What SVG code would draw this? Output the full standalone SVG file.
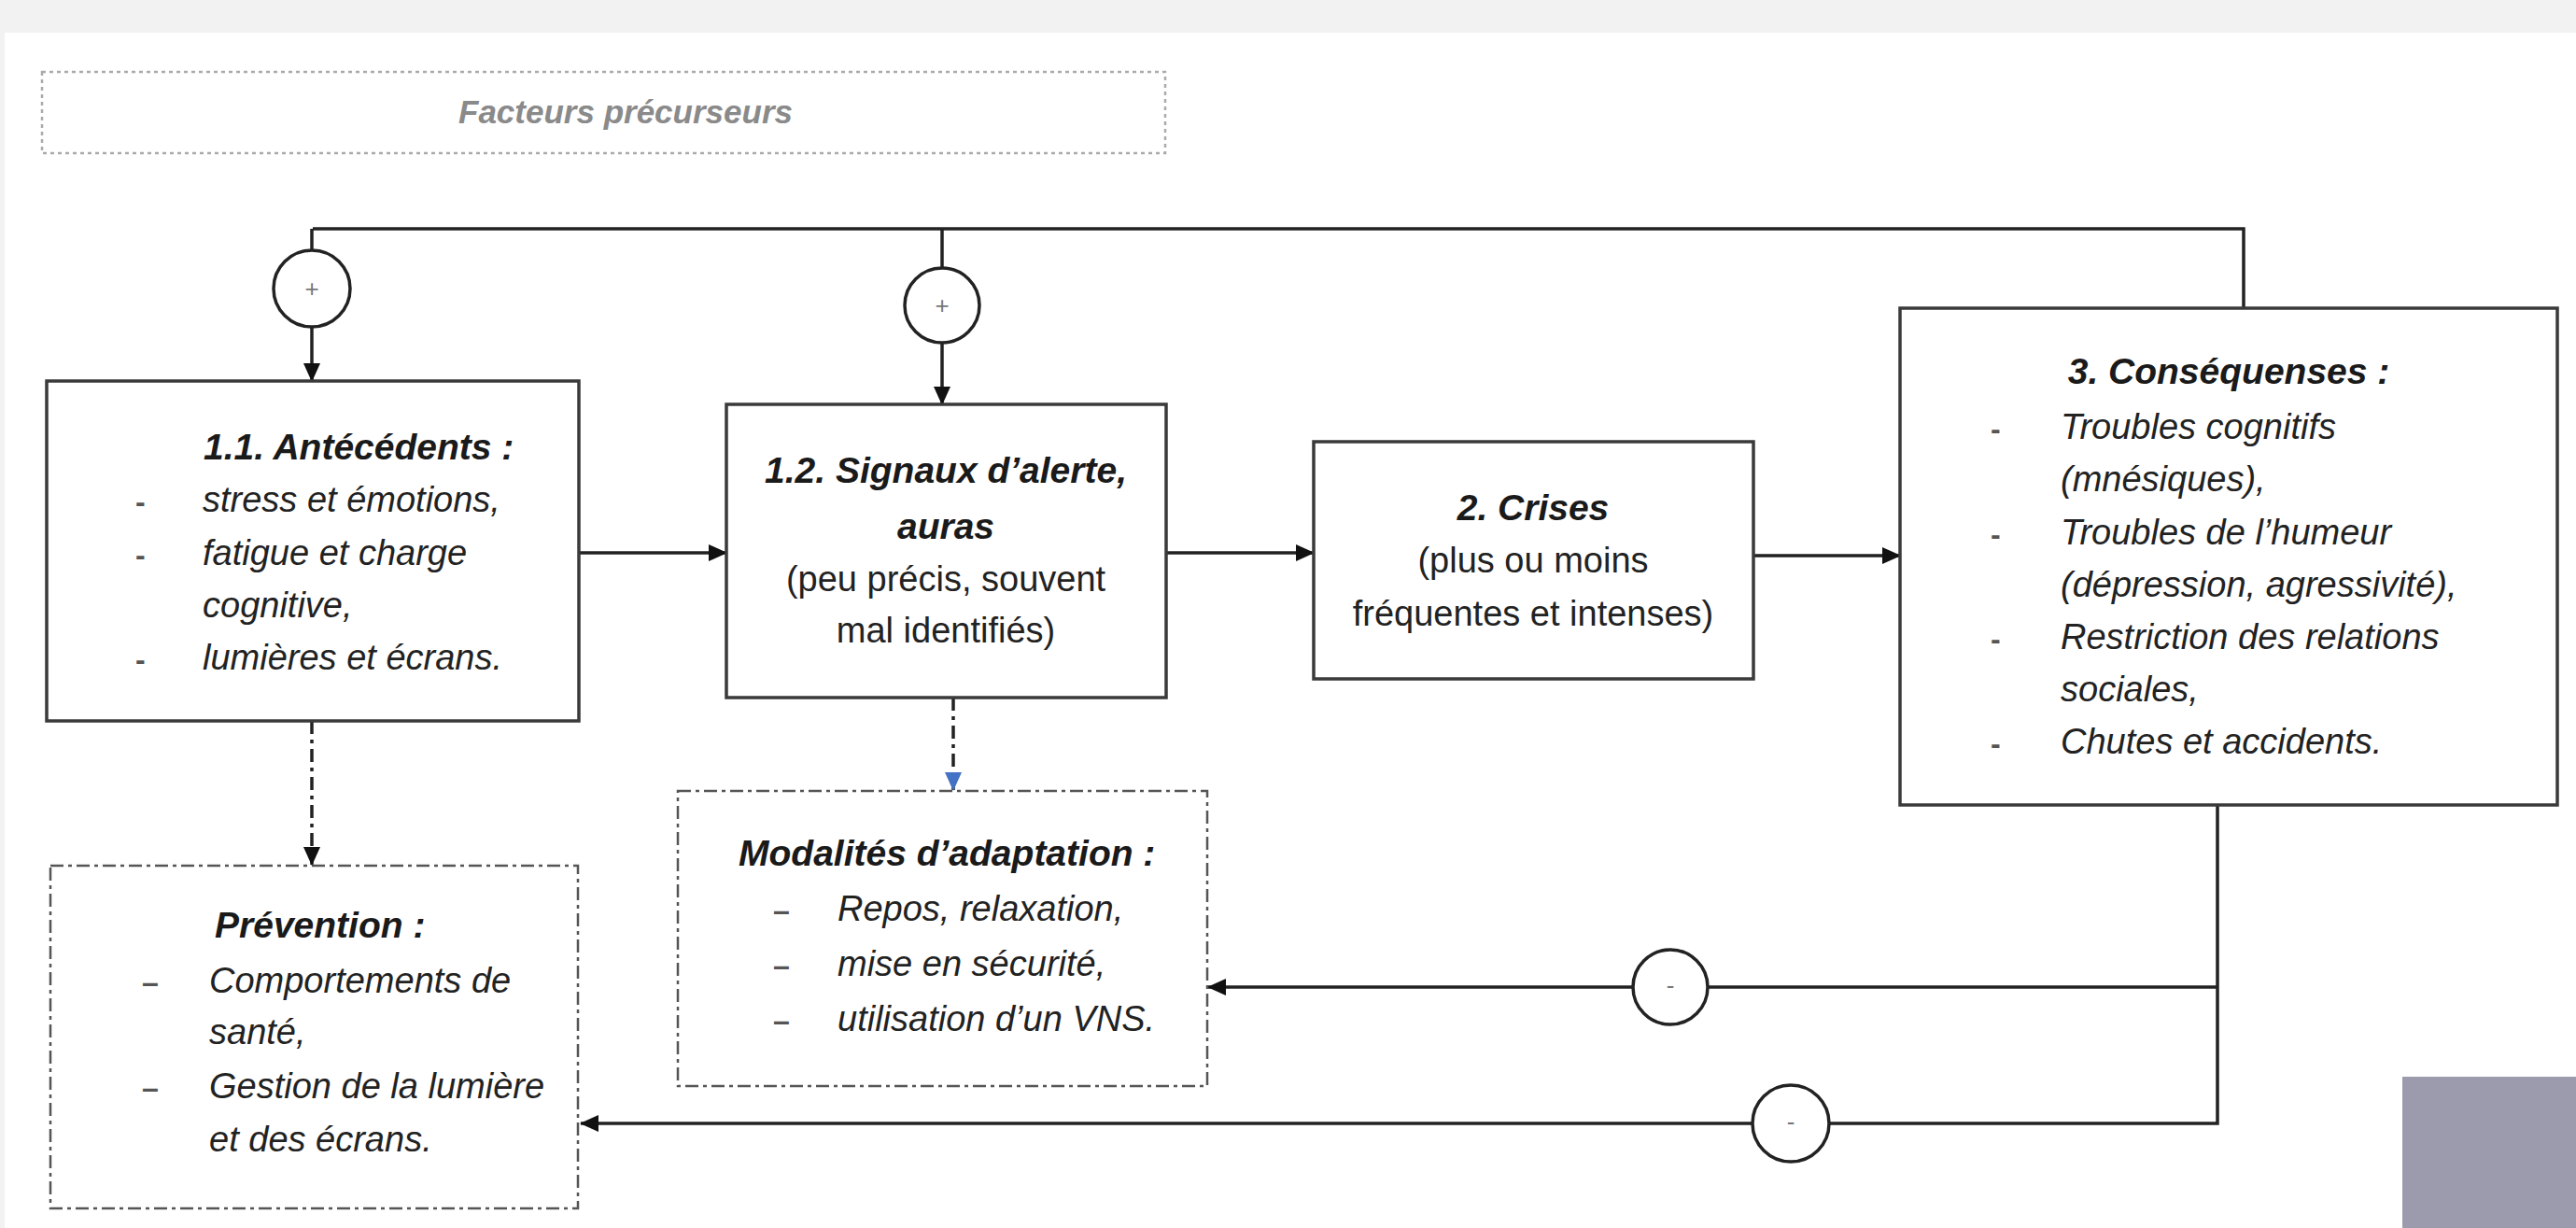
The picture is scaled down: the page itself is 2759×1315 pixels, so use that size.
<svg xmlns="http://www.w3.org/2000/svg" width="2759" height="1315" viewBox="0 0 2759 1315">
<style>
.box{fill:#fff;stroke:#3a3a3a;stroke-width:3.5}
.dbox{fill:#fff;stroke:#555;stroke-width:2.5;stroke-dasharray:14 5 4 5}
.t{font-family:"Liberation Sans",Arial,sans-serif;font-size:38px;fill:#222;font-style:italic}
.r{font-family:"Liberation Sans",Arial,sans-serif;font-size:38px;fill:#222}
.h{font-family:"Liberation Sans",Arial,sans-serif;font-size:39px;fill:#1a1a1a;font-style:italic;font-weight:bold}
.b{font-family:"Liberation Sans",Arial,sans-serif;font-size:32px;fill:#555;font-weight:bold}
.c{font-family:"Liberation Sans",Arial,sans-serif;font-size:26px;fill:#777;text-anchor:middle}
.ln{fill:none;stroke:#222;stroke-width:3.5}
.circ{fill:#fff;stroke:#222;stroke-width:3.5}
</style>
<defs>
<marker id="ah" markerUnits="userSpaceOnUse" markerWidth="20" markerHeight="18" refX="19" refY="9" orient="auto"><path d="M0,0 L20,9 L0,18 z" fill="#111"/></marker>
<marker id="ahb" markerUnits="userSpaceOnUse" markerWidth="20" markerHeight="18" refX="19" refY="9" orient="auto"><path d="M0,0 L20,9 L0,18 z" fill="#4472c4"/></marker>
</defs>
<rect x="0" y="0" width="2759" height="1315" fill="#f2f2f2"/>
<rect x="5" y="35" width="2754" height="1280" fill="#fff"/>
<rect x="2573" y="1153" width="186" height="162" fill="#9c9bad"/>

<g id="facteurs">
<rect x="45" y="77" width="1203" height="87" fill="#fff" stroke="#aaa" stroke-width="2.5" stroke-dasharray="4 4"/>
<text x="670" y="132" text-anchor="middle" style="font-family:'Liberation Sans',Arial,sans-serif;font-size:35px;font-style:italic;font-weight:bold;fill:#8a8a8a">Facteurs précurseurs</text>
</g>

<g id="connectors">
<path class="ln" d="M335,245 H2403 V330" stroke-width="4.5"/>
<path class="ln" d="M334,245 V268"/>
<path class="ln" d="M334,350 V408" marker-end="url(#ah)"/>
<path class="ln" d="M1009,245 V287"/>
<path class="ln" d="M1009,367 V433" marker-end="url(#ah)"/>
<path class="ln" d="M620,592 H778" marker-end="url(#ah)"/>
<path class="ln" d="M1249,592 H1407" marker-end="url(#ah)"/>
<path class="ln" d="M1878,595 H2035" stroke="#555" marker-end="url(#ah)"/>
<path class="ln" d="M2375,862 V1203 H1959" stroke="#444"/>
<path class="ln" d="M1877,1203 H622" stroke="#444" marker-end="url(#ah)"/>
<path class="ln" d="M2375,1057 H1829" stroke="#444"/>
<path class="ln" d="M1749,1057 H1294" stroke="#444" marker-end="url(#ah)"/>
<path class="ln" d="M334,772 V926" stroke-width="2.5" stroke-dasharray="14 6 4 6" marker-end="url(#ah)"/>
<path class="ln" d="M1021,747 V846" stroke="#4472c4" stroke-width="2.5" stroke-dasharray="14 6 4 6" marker-end="url(#ahb)"/>
</g>

<g id="plus1"><circle class="circ" cx="334" cy="309" r="41"/><text class="c" x="334" y="318">+</text></g>
<g id="plus2"><circle class="circ" cx="1009" cy="327" r="40"/><text class="c" x="1009" y="336">+</text></g>
<g id="minus1"><circle class="circ" cx="1789" cy="1057" r="40"/><text class="c" x="1789" y="1064">-</text></g>
<g id="minus2"><circle class="circ" cx="1918" cy="1203" r="41"/><text class="c" x="1918" y="1210">-</text></g>

<g id="antecedents">
<rect class="box" x="50" y="408" width="570" height="364"/>
<text class="h" x="218" y="492">1.1. Antécédents :</text>
<text class="b" x="145" y="548">-</text><text class="t" x="217" y="548">stress et émotions,</text>
<text class="b" x="145" y="605">-</text><text class="t" x="217" y="605">fatigue et charge</text>
<text class="t" x="217" y="661">cognitive,</text>
<text class="b" x="145" y="717">-</text><text class="t" x="217" y="717">lumières et écrans.</text>
</g>

<g id="signaux">
<rect class="box" x="778" y="433" width="471" height="314"/>
<text class="h" x="1013" y="517" text-anchor="middle">1.2. Signaux d’alerte,</text>
<text class="h" x="1013" y="577" text-anchor="middle">auras</text>
<text class="r" x="1013" y="633" text-anchor="middle">(peu précis, souvent</text>
<text class="r" x="1013" y="688" text-anchor="middle">mal identifiés)</text>
</g>

<g id="crises">
<rect class="box" x="1407" y="473" width="471" height="254"/>
<text class="h" x="1642" y="557" text-anchor="middle">2. Crises</text>
<text class="r" x="1642" y="613" text-anchor="middle">(plus ou moins</text>
<text class="r" x="1642" y="670" text-anchor="middle">fréquentes et intenses)</text>
</g>

<g id="consequences">
<rect class="box" x="2035" y="330" width="704" height="532"/>
<text class="h" x="2387" y="411" text-anchor="middle">3. Conséquenses :</text>
<text class="b" x="2132" y="470">-</text><text class="t" x="2207" y="470">Troubles cognitifs</text>
<text class="t" x="2207" y="526">(mnésiques),</text>
<text class="b" x="2132" y="583">-</text><text class="t" x="2207" y="583">Troubles de l’humeur</text>
<text class="t" x="2207" y="639">(dépression, agressivité),</text>
<text class="b" x="2132" y="695">-</text><text class="t" x="2207" y="695">Restriction des relations</text>
<text class="t" x="2207" y="751">sociales,</text>
<text class="b" x="2132" y="807">-</text><text class="t" x="2207" y="807">Chutes et accidents.</text>
</g>

<g id="prevention">
<rect class="dbox" x="54" y="927" width="565" height="367"/>
<text class="h" x="230" y="1004">Prévention :</text>
<text class="b" x="152" y="1063">–</text><text class="t" x="224" y="1063">Comportements de</text>
<text class="t" x="224" y="1118">santé,</text>
<text class="b" x="152" y="1176">–</text><text class="t" x="224" y="1176">Gestion de la lumière</text>
<text class="t" x="224" y="1233">et des écrans.</text>
</g>

<g id="modalites">
<rect class="dbox" x="726" y="847" width="567" height="316"/>
<text class="h" x="791" y="927">Modalités d’adaptation :</text>
<text class="b" x="828" y="986">–</text><text class="t" x="897" y="986">Repos, relaxation,</text>
<text class="b" x="828" y="1045">–</text><text class="t" x="897" y="1045">mise en sécurité,</text>
<text class="b" x="828" y="1104">–</text><text class="t" x="897" y="1104">utilisation d’un VNS.</text>
</g>
</svg>
